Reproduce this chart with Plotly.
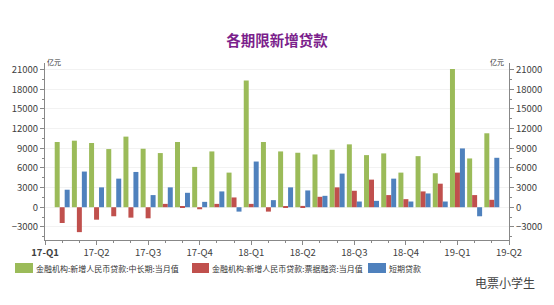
import plotly.graph_objects as go

# Axis months (Jan 2017 .. Apr 2019); data months Feb 2017 .. Mar 2019
axis_months = [f"{y}-{m:02d}" for y in (2017, 2018, 2019) for m in range(1, 13)][:28]
data_months = axis_months[1:27]

mid_long = [9950, 10150, 9800, 8870, 10770, 8920, 8260, 9950, 6150, 8510, 5280,
            19330, 9950, 8510, 8310, 8050, 8770, 9590, 7950, 8210, 5280, 7790, 5180,
            21080, 7440, 11280]
bill = [-2410, -3800, -1900, -1380, -1590, -1690, 510, 80, -310, 510, 1490,
        510, -670, 80, 200, 1590, 3030, 2510, 4210, 1850, 1230, 2410, 3590,
        5280, 1850, 1130]
short = [2670, 5440, 3030, 4360, 5380, 1850, 3030, 2200, 820, 2410, -670,
         6970, 1080, 3030, 2560, 1740, 5130, 870, 970, 4360, 870, 2100, 870,
         8970, -1380, 7540]

names = ["金融机构:新增人民币贷款:中长期:当月值", "金融机构:新增人民币贷款:票据融资:当月值", "短期贷款"]
colors = ["#9BBB59", "#C0504D", "#4F81BD"]

tick_months = axis_months[::3]
tick_labels = [f"{m[2:4]}-Q{(int(m[5:7]) - 1) // 3 + 1}" for m in tick_months]
tick_labels[0] = f"<b>{tick_labels[0]}</b>"

y_ticks = list(range(-3000, 21001, 3000))

xs = [axis_months.index(m) for m in data_months]
tick_x = [axis_months.index(m) for m in tick_months]

FONT = "Noto Sans CJK SC"
W, H = 554, 305
L, R, T, B = 45, 45, 63, 65


def px_x(p):
    return (p - L) / (W - L - R)


def px_y(p):
    return (H - B - p) / (H - T - B)


fig = go.Figure()
for name, vals, c in zip(names, [mid_long, bill, short], colors):
    fig.add_trace(go.Bar(x=xs, y=vals, name=name, showlegend=False,
                         marker=dict(color=c, line=dict(width=0))))
fig.add_trace(go.Scatter(x=[], y=[], yaxis="y2", showlegend=False, hoverinfo="skip"))

axis_common = dict(range=[-5000, 22000], tickvals=y_ticks, tickformat="d", ticks="outside", ticklen=4,
                   tickcolor="#888", linecolor="#888", showline=True, zeroline=False,
                   tickfont=dict(size=9.5, color="#404040", family=FONT),
                   minor=dict(dtick=1500, tick0=0, ticklen=2, tickcolor="#888", ticks="outside"))

annotations = [
    dict(text="亿元", xref="paper", yref="paper", x=0, y=px_y(62), xanchor="left",
         yanchor="middle", showarrow=False, font=dict(size=7, color="#333", family=FONT)),
    dict(text="亿元", xref="paper", yref="paper", x=1, y=px_y(62), xanchor="right", xshift=-3,
         yanchor="middle", showarrow=False, font=dict(size=7, color="#333", family=FONT)),
    dict(text="电票小学生", xref="paper", yref="paper", x=px_x(505), y=px_y(282),
         xanchor="center", yanchor="middle", showarrow=False,
         font=dict(size=12, color="#444", family=FONT)),
]
shapes = []
legend_pos = [(15, 33), (192, 209), (368, 386)]
for (x0, x1), name, c in zip(legend_pos, names, colors):
    shapes.append(dict(type="rect", xref="paper", yref="paper", x0=px_x(x0), x1=px_x(x1),
                       y0=px_y(273), y1=px_y(263), fillcolor=c, line=dict(width=0)))
    annotations.append(dict(text=name, xref="paper", yref="paper", x=px_x(x1 + 1), y=px_y(268),
                            xanchor="left", yanchor="middle", showarrow=False,
                            font=dict(size=8, color="#333", family=FONT)))

fig.update_layout(
    width=W, height=H,
    margin=dict(l=L, r=R, t=T, b=B),
    paper_bgcolor="white", plot_bgcolor="white",
    barmode="group", bargap=0.13, bargroupgap=0,
    title=dict(text="<b>各期限新增贷款</b>", x=0.5, xanchor="center", y=1 - 41 / H,
               yanchor="middle", font=dict(size=14.5, color="#7B1F8C", family=FONT)),
    xaxis=dict(range=[0, 27], tickmode="array", tickvals=tick_x, ticktext=tick_labels,
               ticks="outside", ticklen=4, tickcolor="#888", linecolor="#888", showline=True,
               showgrid=False, zeroline=False,
               tickfont=dict(size=9.5, color="#404040", family=FONT),
               minor=dict(tickmode="linear", tick0=0, dtick=1, ticklen=2, tickcolor="#888", ticks="outside")),
    yaxis=dict(side="left", showgrid=True, gridcolor="#f2f2f2", gridwidth=1, **axis_common),
    yaxis2=dict(side="right", overlaying="y", showgrid=False, **axis_common),
    showlegend=False,
    shapes=shapes,
    annotations=annotations,
)

fig.write_html("out.html")
